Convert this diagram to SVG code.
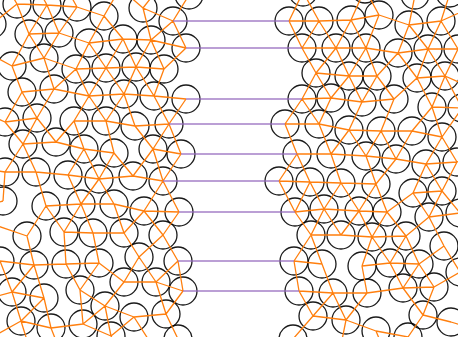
<svg xmlns="http://www.w3.org/2000/svg" width="458" height="337" viewBox="0 0 458 337">
<style>
.p circle{fill:none;stroke:#000;stroke-width:1.3;stroke-opacity:0.9}
.f{fill:none;stroke:#ff7f0e;stroke-width:1.3;stroke-linejoin:round}
.pb{stroke:#9467bd;stroke-width:1.3;stroke-opacity:0.85}
</style>
<rect width="458" height="337" fill="#fff"/>
<g id="particles-left" class="p">
<circle cx="17" cy="4" r="14"/><circle cx="47" cy="5" r="14"/><circle cx="77" cy="7" r="14"/><circle cx="104" cy="16" r="14"/><circle cx="143" cy="8" r="14"/><circle cx="173" cy="21" r="14"/><circle cx="189" cy="-5" r="14"/>
<circle cx="-8" cy="24" r="14"/><circle cx="29" cy="34" r="14"/><circle cx="59" cy="33" r="14"/><circle cx="89" cy="43" r="14"/><circle cx="123" cy="39" r="14"/><circle cx="151" cy="40" r="14"/><circle cx="186" cy="48" r="14"/>
<circle cx="12" cy="66" r="14"/><circle cx="44" cy="58" r="14"/><circle cx="76" cy="69" r="14"/><circle cx="106" cy="68" r="14"/><circle cx="136" cy="67" r="14"/><circle cx="164" cy="69" r="14"/>
<circle cx="22" cy="92" r="14"/><circle cx="54" cy="89" r="14"/><circle cx="89" cy="96" r="14"/><circle cx="124" cy="94" r="14"/><circle cx="154" cy="96" r="14"/><circle cx="186" cy="99" r="14"/>
<circle cx="5" cy="122" r="14"/><circle cx="37" cy="118" r="14"/><circle cx="74" cy="121" r="14"/><circle cx="106" cy="121" r="14"/><circle cx="135" cy="126" r="14"/><circle cx="169" cy="124" r="14"/>
<circle cx="23" cy="144" r="14"/><circle cx="56" cy="142" r="14"/><circle cx="84" cy="149" r="14"/><circle cx="114" cy="153" r="14"/><circle cx="153" cy="149" r="14"/><circle cx="181" cy="154" r="14"/>
<circle cx="5" cy="172" r="14"/><circle cx="36" cy="172" r="14"/><circle cx="68" cy="175" r="14"/><circle cx="99" cy="179" r="14"/><circle cx="133" cy="176" r="14"/><circle cx="163" cy="181" r="14"/>
<circle cx="3" cy="201" r="14"/><circle cx="46" cy="206" r="14"/><circle cx="81" cy="204" r="14"/><circle cx="114" cy="204" r="14"/><circle cx="144" cy="211" r="14"/><circle cx="179" cy="212" r="14"/>
<circle cx="27" cy="236" r="14"/><circle cx="64" cy="232" r="14"/><circle cx="93" cy="233" r="14"/><circle cx="124" cy="233" r="14"/><circle cx="163" cy="235" r="14"/>
<circle cx="0" cy="261" r="14"/><circle cx="34" cy="265" r="14"/><circle cx="66" cy="264" r="14"/><circle cx="99" cy="263" r="14"/><circle cx="139" cy="257" r="14"/><circle cx="178" cy="261" r="14"/>
<circle cx="12" cy="292" r="14"/><circle cx="44" cy="298" r="14"/><circle cx="80" cy="290" r="14"/><circle cx="105" cy="306" r="14"/><circle cx="124" cy="282" r="14"/><circle cx="156" cy="282" r="14"/><circle cx="183" cy="291" r="14"/>
<circle cx="21" cy="321" r="14"/><circle cx="51" cy="328" r="14"/><circle cx="83" cy="324" r="14"/><circle cx="111" cy="336" r="14"/><circle cx="134" cy="317" r="14"/><circle cx="166" cy="314" r="14"/><circle cx="178" cy="339" r="14"/>
</g>
<g id="particles-right" class="p">
<circle cx="303" cy="-8" r="14"/><circle cx="365" cy="-11" r="14"/><circle cx="415" cy="-5" r="14"/><circle cx="450" cy="-7" r="14"/>
<circle cx="289" cy="21" r="14"/><circle cx="319" cy="21" r="14"/><circle cx="351" cy="20" r="14"/><circle cx="379" cy="15" r="14"/><circle cx="409" cy="25" r="14"/><circle cx="441" cy="21" r="14"/>
<circle cx="302" cy="48" r="14"/><circle cx="336" cy="48" r="14"/><circle cx="366" cy="48" r="14"/><circle cx="398" cy="53" r="14"/><circle cx="428" cy="49" r="14"/><circle cx="458" cy="49" r="14"/>
<circle cx="316" cy="73" r="14"/><circle cx="349" cy="76" r="14"/><circle cx="377" cy="76" r="14"/><circle cx="417" cy="78" r="14"/><circle cx="445" cy="76" r="14"/>
<circle cx="302" cy="99" r="14"/><circle cx="331" cy="98" r="14"/><circle cx="362" cy="102" r="14"/><circle cx="394" cy="99" r="14"/><circle cx="432" cy="107" r="14"/><circle cx="462" cy="108" r="14"/>
<circle cx="285" cy="124" r="14"/><circle cx="319" cy="124" r="14"/><circle cx="349" cy="130" r="14"/><circle cx="381" cy="131" r="14"/><circle cx="412" cy="131" r="14"/><circle cx="442" cy="137" r="14"/>
<circle cx="297" cy="154" r="14"/><circle cx="331" cy="154" r="14"/><circle cx="366" cy="156" r="14"/><circle cx="396" cy="159" r="14"/><circle cx="426" cy="164" r="14"/><circle cx="457" cy="162" r="14"/>
<circle cx="279" cy="181" r="14"/><circle cx="310" cy="182" r="14"/><circle cx="341" cy="183" r="14"/><circle cx="376" cy="184" r="14"/><circle cx="413" cy="193" r="14"/><circle cx="442" cy="191" r="14"/>
<circle cx="295" cy="212" r="14"/><circle cx="324" cy="209" r="14"/><circle cx="359" cy="211" r="14"/><circle cx="387" cy="212" r="14"/><circle cx="429" cy="217" r="14"/><circle cx="460" cy="213" r="14"/>
<circle cx="311" cy="235" r="14"/><circle cx="341" cy="235" r="14"/><circle cx="372" cy="237" r="14"/><circle cx="406" cy="236" r="14"/><circle cx="444" cy="246" r="14"/>
<circle cx="294" cy="261" r="14"/><circle cx="322" cy="264" r="14"/><circle cx="362" cy="266" r="14"/><circle cx="390" cy="263" r="14"/><circle cx="419" cy="264" r="14"/><circle cx="460" cy="272" r="14"/>
<circle cx="299" cy="291" r="14"/><circle cx="333" cy="293" r="14"/><circle cx="367" cy="293" r="14"/><circle cx="403" cy="288" r="14"/><circle cx="434" cy="287" r="14"/>
<circle cx="293" cy="339" r="14"/><circle cx="313" cy="316" r="14"/><circle cx="346" cy="320" r="14"/><circle cx="376" cy="331" r="14"/><circle cx="408" cy="337" r="14"/><circle cx="423" cy="315" r="14"/><circle cx="451" cy="322" r="14"/>
</g>
<g id="connectors">
<path class="f" d="M17 4L47 5L77 7L104 16M143 8L173 21L189 -5M29 34L59 33L89 43L123 39L151 40L186 48M12 66L44 58L76 69L106 68L136 67L164 69M22 92L54 89L89 96L124 94L154 96L186 99M5 122L37 118M74 121L106 121L135 126L169 124M23 144L56 142L84 149L114 153M153 149L181 154M5 172L36 172L68 175L99 179L133 176L163 181M46 206L81 204L114 204L144 211L179 212M64 232L93 233L124 233M0 261L34 265L66 264L99 263M12 292L44 298M80 290L105 306L124 282L156 282L183 291M21 321L51 328L83 324L111 336L134 317L166 314L178 339
M17 4L29 34M17 4L-8 24M47 5L29 34M47 5L59 33M77 7L59 33M104 16L89 43M104 16L123 39M143 8L151 40M173 21L151 40M173 21L186 48
M29 34L12 66M29 34L44 58M59 33L44 58M89 43L76 69M89 43L106 68M123 39L106 68M123 39L136 67M151 40L136 67M151 40L164 69M186 48L164 69
M12 66L22 92M44 58L54 89M76 69L54 89M76 69L89 96M106 68L89 96M106 68L124 94M136 67L124 94M136 67L154 96M164 69L154 96
M22 92L5 122M22 92L37 118M54 89L37 118M89 96L74 121M89 96L106 121M124 94L106 121M124 94L135 126M154 96L169 124M186 99L169 124
M5 122L23 144M37 118L23 144M37 118L56 142M74 121L56 142M74 121L84 149M106 121L114 153M135 126L153 149M169 124L153 149M169 124L181 154
M23 144L5 172M23 144L36 172M84 149L68 175M84 149L99 179M114 153L99 179M114 153L133 176M153 149L133 176M153 149L163 181M181 154L163 181
M5 172L3 201M36 172L46 206M68 175L81 204M99 179L81 204M99 179L114 204M163 181L144 211M163 181L179 212
M46 206L27 236M46 206L64 232M81 204L64 232M81 204L93 233M114 204L124 233M144 211L124 233M144 211L163 235M179 212L163 235
M27 236L34 265M64 232L66 264M93 233L99 263M124 233L139 257M163 235L139 257M163 235L178 261
M0 261L12 292M34 265L12 292M34 265L44 298M66 264L80 290M99 263L80 290M99 263L124 282M139 257L124 282M139 257L156 282M178 261L156 282M178 261L183 291
M12 292L21 321M44 298L21 321M44 298L51 328M80 290L83 324M105 306L83 324M105 306L111 336M105 306L134 317M156 282L166 314M183 291L166 314
M12 66L-18 50M5 122L-22 110M5 172L-22 168M3 201L-22 208M27 236L-2 226M12 292L-16 300M21 321L-6 336M17 4L2 -22M47 5L32 -22M77 7L62 -20M104 16L120 -12M143 8L120 -12M143 8L165 -20M51 328L62 356M111 336L125 362M134 317L150 342M21 321L30 350"/>
<path class="f" d="M289 21L319 21L351 20L379 15L409 25L441 21M302 48L336 48L366 48L398 53L428 49L458 49M316 73L349 76L377 76M417 78L445 76M302 99L331 98L362 102L394 99M432 107L462 108M285 124L319 124L349 130L381 131L412 131L442 137M297 154L331 154L366 156L396 159L426 164L457 162M279 181L310 182L341 183L376 184M413 193L442 191M295 212L324 209L359 211L387 212M429 217L460 213M311 235L341 235L372 237L406 236M294 261L322 264M362 266L390 263L419 264M299 291L333 293L367 293L403 288L434 287M293 339L313 316L346 320L376 331L408 337L423 315L451 322
M303 -8L289 21M303 -8L319 21M365 -11L351 20M365 -11L379 15M415 -5L409 25M450 -7L441 21
M289 21L302 48M319 21L302 48M319 21L336 48M351 20L336 48M351 20L366 48M379 15L366 48M409 25L398 53M409 25L428 49M441 21L428 49M441 21L458 49
M302 48L316 73M336 48L316 73M336 48L349 76M366 48L349 76M366 48L377 76M398 53L377 76M398 53L417 78M428 49L417 78M428 49L445 76M458 49L445 76
M316 73L302 99M316 73L331 98M349 76L331 98M349 76L362 102M377 76L362 102M377 76L394 99M417 78L394 99M417 78L432 107M445 76L432 107M445 76L462 108
M302 99L285 124M302 99L319 124M331 98L319 124M362 102L349 130M394 99L381 131M432 107L412 131M432 107L442 137M462 108L442 137
M285 124L297 154M319 124L331 154M349 130L331 154M349 130L366 156M381 131L366 156M381 131L396 159M412 131L396 159M442 137L426 164M442 137L457 162
M297 154L279 181M297 154L310 182M331 154L341 183M366 156L376 184M396 159L376 184M426 164L413 193M426 164L442 191M457 162L442 191
M279 181L295 212M310 182L295 212M310 182L324 209M341 183L324 209M341 183L359 211M376 184L359 211M376 184L387 212M413 193L387 212M413 193L429 217M442 191L429 217M442 191L460 213
M295 212L311 235M324 209L311 235M324 209L341 235M359 211L341 235M359 211L372 237M387 212L372 237M387 212L406 236M429 217L406 236M429 217L444 246
M311 235L294 261M311 235L322 264M372 237L362 266M372 237L390 263M406 236L390 263M406 236L419 264M444 246L419 264M444 246L460 272
M294 261L299 291M322 264L333 293M362 266L367 293M390 263L403 288M419 264L403 288M419 264L434 287M460 272L434 287
M299 291L313 316M333 293L313 316M333 293L346 320M367 293L346 320M403 288L423 315M434 287L423 315
M441 21L470 8M458 49L485 30M462 108L490 100M457 162L485 150M460 213L488 222M460 272L488 285M451 322L478 330M445 76L472 88M376 331L388 360M346 320L340 350"/>
<g class="pb">
<line x1="173" y1="21" x2="289" y2="21"/>
<line x1="186" y1="48" x2="302" y2="48"/>
<line x1="186" y1="99" x2="302" y2="99"/>
<line x1="169" y1="124" x2="285" y2="124"/>
<line x1="181" y1="154" x2="297" y2="154"/>
<line x1="163" y1="181" x2="279" y2="181"/>
<line x1="179" y1="212" x2="295" y2="212"/>
<line x1="178" y1="261" x2="294" y2="261"/>
<line x1="183" y1="291" x2="299" y2="291"/>
</g>
</g>
</svg>
